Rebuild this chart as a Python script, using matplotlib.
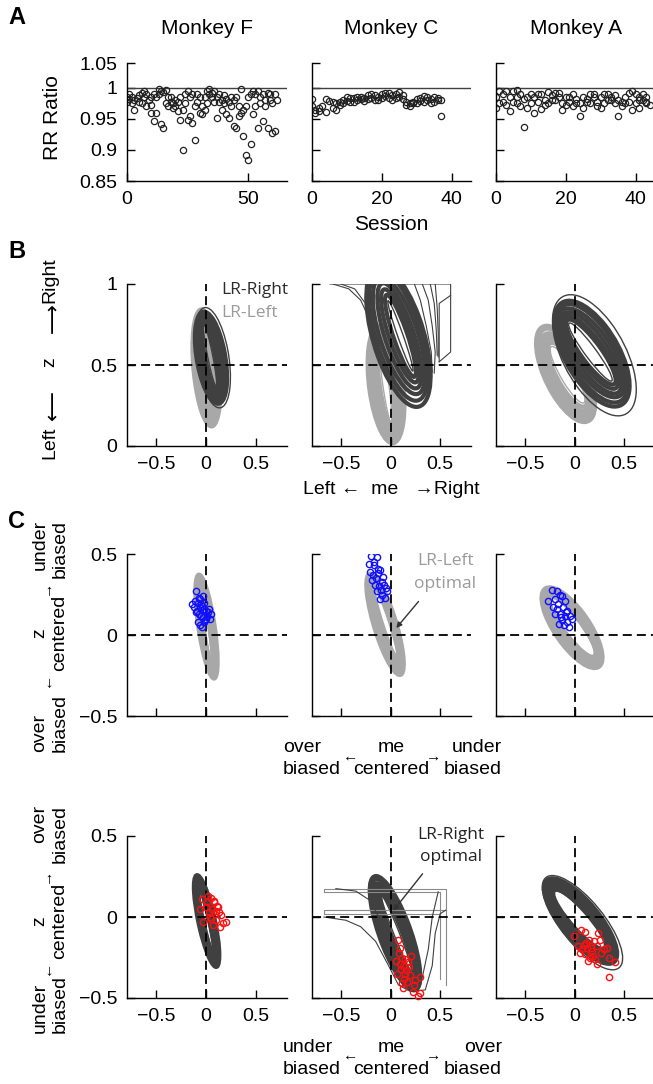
import matplotlib
matplotlib.use('Agg')
import matplotlib.pyplot as plt
from matplotlib.patches import Ellipse

plt.rcParams['font.family'] = ['Liberation Sans', 'DejaVu Sans']

W, H = 653, 1084
DARK = '#404040'
GRAY = '#a8a8a8'

# ---------------- panel A data (RR ratio per session) ----------------
F_sess = [0, 0, 1, 1, 2, 2, 3, 3, 4, 5, 5,
          6, 6, 7, 7, 8, 8, 9, 10, 10, 10, 11,
          11, 12, 12, 13, 13, 14, 14, 15, 15, 16, 16,
          17, 17, 18, 18, 19, 19, 20, 20, 21, 21, 22, 22,
          23, 23, 24, 24, 25, 25, 26, 26, 27, 27, 28, 28,
          29, 29, 30, 30, 31, 31, 32, 32, 33, 33, 34, 34,
          35, 35, 36, 36, 37, 37, 38, 38, 39, 39, 40, 40,
          41, 41, 42, 42, 43, 43, 44, 44, 45, 45, 46, 46,
          47, 47, 48, 48, 49, 49, 50, 50, 51, 51, 52, 52,
          53, 53, 54, 54, 55, 55, 56, 56, 57, 57, 58, 58, 59, 59, 60, 60, 61, 61, 62]
F_rr = [0.985, 0.978, 0.982, 0.990, 0.976, 0.986, 0.980, 0.965, 0.983, 0.978, 0.988,
        0.975, 0.992, 0.995, 0.985, 0.970, 0.990, 0.980, 0.985, 0.972, 0.960, 0.947,
        0.990, 0.960, 0.985, 0.998, 0.990, 0.995, 0.942, 0.994, 0.935, 0.996, 0.975,
        0.985, 0.970, 0.978, 0.985, 0.975, 0.968, 0.980, 0.970, 0.962, 0.978, 0.948, 0.985,
        0.900, 0.965, 0.990, 0.975, 0.948, 0.995, 0.955, 0.985, 0.944, 0.990, 0.916, 0.970,
        0.990, 0.978, 0.960, 0.985, 0.958, 0.970, 0.965, 0.985, 0.975, 0.995, 0.998, 0.990,
        0.985, 0.992, 0.978, 0.995, 0.951, 0.985, 0.978, 0.990, 0.965, 0.980, 0.975, 0.988,
        0.958, 0.982, 0.951, 0.978, 0.985, 0.970, 0.938, 0.980, 0.935, 0.985, 0.955, 0.970,
        0.998, 0.960, 0.923, 0.965, 0.892, 0.970, 0.884, 0.985, 0.909, 0.990, 0.958, 0.995,
        0.970, 0.990, 0.935, 0.995, 0.975, 0.985, 0.946, 0.990, 0.970, 0.980, 0.935, 0.992, 0.990, 0.980, 0.927, 0.975, 0.930, 0.990, 0.980]

C_sess = [0, 0, 1, 1, 2, 2, 3, 4, 4, 5, 6, 6, 7, 7, 8, 8, 9, 10, 10, 11, 11, 12, 13, 14, 15, 16,
          17, 18, 19, 20, 20, 21, 22, 22, 23, 24, 25, 25, 26, 27, 28, 28, 29, 30, 31, 32, 33, 34,
          35, 35, 36, 37, 37,
          9, 12, 13, 14, 15, 16, 17, 18, 19, 21, 23, 24, 26, 27, 29, 30, 31, 32, 33, 34, 36]
C_rr = [0.982, 0.970, 0.965, 0.959, 0.962, 0.968, 0.970, 0.982, 0.961, 0.979, 0.978, 0.968, 0.975,
        0.965, 0.973, 0.978, 0.980, 0.986, 0.979, 0.984, 0.978, 0.983, 0.985, 0.982, 0.984, 0.988,
        0.984, 0.989, 0.981, 0.990, 0.984, 0.987, 0.991, 0.984, 0.988, 0.984, 0.994, 0.986, 0.982,
        0.978, 0.970, 0.976, 0.978, 0.982, 0.979, 0.987, 0.980, 0.982, 0.985, 0.978, 0.981, 0.955, 0.980,
        0.976, 0.978, 0.980, 0.986, 0.979, 0.982, 0.990, 0.980, 0.986, 0.992, 0.981, 0.990, 0.988,
        0.972, 0.975, 0.976, 0.984, 0.978, 0.986, 0.976, 0.984]

A_sess = [0, 0, 1, 1, 2, 3, 3, 4, 5, 5, 6, 6, 7, 7, 8, 8, 9, 10, 10, 11, 11, 12, 13, 13, 14, 15, 15,
          16, 17, 17, 18, 19, 19, 20, 20, 21, 22, 22, 23, 24, 24, 25, 25, 26, 27, 27, 28, 29, 29, 30,
          31, 31, 32, 33, 34, 34, 35, 35, 36, 37, 37, 38, 39, 39, 40, 40, 41, 41, 42, 42, 43, 43, 44,
          2, 4, 6, 9, 12, 14, 16, 18, 21, 23, 26, 28, 30, 32, 33, 36, 38, 41, 43]
A_rr = [0.985, 0.968, 0.995, 0.975, 0.990, 0.972, 0.995, 0.962, 0.995, 0.978, 0.997, 0.985, 0.990,
        0.970, 0.937, 0.982, 0.968, 0.990, 0.975, 0.960, 0.985, 0.978, 0.966, 0.990, 0.980, 0.993,
        0.975, 0.988, 0.992, 0.980, 0.985, 0.975, 0.965, 0.985, 0.972, 0.978, 0.990, 0.970, 0.982,
        0.955, 0.975, 0.985, 0.968, 0.978, 0.990, 0.975, 0.985, 0.978, 0.970, 0.985, 0.975, 0.990,
        0.980, 0.985, 0.975, 0.988, 0.955, 0.980, 0.970, 0.985, 0.975, 0.978, 0.995, 0.965, 0.990,
        0.975, 0.985, 0.968, 0.990, 0.980, 0.975, 0.985, 0.972,
        0.978, 0.985, 0.975, 0.985, 0.990, 0.972, 0.980, 0.992, 0.986, 0.975, 0.982, 0.990, 0.968,
        0.990, 0.980, 0.978, 0.992, 0.980, 0.978]

monkeys = ['Monkey F', 'Monkey C', 'Monkey A']

# ---------------- iso-reward-rate contour bundles: (cx, cy, width, height, angle) ----------------
# first entry of each bundle is the innermost contour (drawn thin)
bF_left = [(0.000, 0.490, 0.50, 0.04, 98), (0.000, 0.490, 0.55, 0.08, 98), (-0.005, 0.488, 0.60, 0.12, 97),
           (0.000, 0.486, 0.64, 0.16, 98), (0.000, 0.488, 0.68, 0.20, 99), (0.002, 0.485, 0.71, 0.23, 98),
           (0.005, 0.482, 0.73, 0.26, 99)]
bF_right = [(0.040, 0.560, 0.40, 0.05, 108), (0.040, 0.555, 0.44, 0.10, 108), (0.042, 0.552, 0.47, 0.13, 107),
            (0.045, 0.550, 0.50, 0.17, 108), (0.046, 0.548, 0.53, 0.21, 109), (0.048, 0.546, 0.56, 0.25, 108),
            (0.050, 0.545, 0.59, 0.28, 108)]
bC_left = [(-0.050, 0.390, 0.50, 0.06, 103), (-0.050, 0.390, 0.55, 0.12, 103), (-0.050, 0.385, 0.60, 0.17, 102),
           (-0.050, 0.385, 0.64, 0.22, 103), (-0.050, 0.385, 0.68, 0.26, 104), (-0.048, 0.382, 0.71, 0.30, 103),
           (-0.045, 0.380, 0.74, 0.34, 103)]
bC_right = [(0.100, 0.680, 0.50, 0.05, 120), (0.100, 0.680, 0.58, 0.13, 120), (0.095, 0.680, 0.66, 0.20, 121),
            (0.090, 0.680, 0.74, 0.27, 121), (0.085, 0.680, 0.82, 0.35, 122), (0.080, 0.680, 0.90, 0.42, 121),
            (0.080, 0.675, 0.97, 0.48, 121)]
bA_left = [(-0.070, 0.440, 0.48, 0.12, 135), (-0.070, 0.440, 0.53, 0.18, 135), (-0.075, 0.440, 0.58, 0.22, 134),
           (-0.080, 0.440, 0.63, 0.26, 135), (-0.080, 0.440, 0.67, 0.30, 136), (-0.085, 0.445, 0.72, 0.33, 135),
           (-0.090, 0.445, 0.76, 0.36, 135)]
bA_right = [(0.160, 0.580, 0.56, 0.09, 141), (0.165, 0.580, 0.62, 0.16, 142), (0.165, 0.578, 0.68, 0.21, 142),
            (0.170, 0.575, 0.74, 0.27, 142), (0.170, 0.575, 0.80, 0.33, 143), (0.175, 0.572, 0.85, 0.39, 142),
            (0.175, 0.570, 0.90, 0.44, 142)]

cF_left = [(0.000, 0.060, 0.45, 0.03, 104), (0.000, 0.060, 0.49, 0.065, 104), (0.000, 0.058, 0.53, 0.08, 103),
           (0.000, 0.056, 0.57, 0.10, 104), (0.002, 0.055, 0.60, 0.12, 105), (0.004, 0.054, 0.63, 0.14, 104),
           (0.005, 0.052, 0.66, 0.16, 104)]
cC_left = [(-0.045, 0.075, 0.45, 0.05, 118), (-0.045, 0.075, 0.50, 0.095, 118), (-0.048, 0.072, 0.55, 0.12, 117),
           (-0.050, 0.070, 0.59, 0.14, 118), (-0.050, 0.070, 0.63, 0.17, 119), (-0.052, 0.068, 0.67, 0.19, 118),
           (-0.055, 0.066, 0.70, 0.21, 118)]
cA_left = [(-0.020, 0.050, 0.55, 0.12, 142), (-0.020, 0.050, 0.58, 0.15, 142), (-0.020, 0.048, 0.61, 0.18, 143),
           (-0.020, 0.047, 0.64, 0.20, 143), (-0.020, 0.047, 0.67, 0.23, 142), (-0.022, 0.046, 0.70, 0.255, 143),
           (-0.025, 0.045, 0.74, 0.28, 143)]
cF_right = [(0.000, -0.020, 0.40, 0.03, 110), (0.000, -0.020, 0.44, 0.065, 110), (0.000, -0.020, 0.48, 0.08, 109),
            (0.002, -0.022, 0.51, 0.10, 110), (0.004, -0.022, 0.54, 0.12, 111), (0.005, -0.024, 0.57, 0.14, 110),
            (0.006, -0.025, 0.60, 0.16, 110)]
cC_right = [(0.060, -0.100, 0.55, 0.05, 123), (0.060, -0.100, 0.60, 0.10, 123), (0.055, -0.100, 0.65, 0.13, 122),
            (0.050, -0.100, 0.69, 0.17, 123), (0.050, -0.100, 0.73, 0.21, 124), (0.048, -0.100, 0.78, 0.25, 123),
            (0.045, -0.100, 0.82, 0.29, 123)]
cA_right = [(0.050, -0.015, 0.60, 0.12, 146), (0.050, -0.015, 0.64, 0.15, 147), (0.052, -0.018, 0.68, 0.18, 147),
            (0.055, -0.020, 0.72, 0.21, 147), (0.055, -0.020, 0.76, 0.235, 148), (0.058, -0.022, 0.81, 0.26, 147),
            (0.060, -0.025, 0.86, 0.29, 147)]

# single thin outer loops
thin_B = [[(0.065, 0.545, 0.64, 0.32, 107)], [], [(0.200, 0.560, 1.00, 0.52, 141)]]
thin_C2 = [[], [], [(0.080, -0.035, 0.94, 0.33, 147)]]

# clipped contours (Monkey C), vertices
edge_B_C = [
    [(-0.61, 1.0), (0.605, 1.0), (0.605, 0.58), (0.49, 0.52)],
    [(0.605, 0.93), (0.49, 0.88), (0.49, 0.52)],
    [(-0.58, 1.0), (-0.42, 0.97), (-0.30, 0.90), (-0.18, 0.74), (-0.05, 0.54), (0.06, 0.39), (0.16, 0.31)],
    [(-0.50, 1.0), (-0.36, 0.97), (-0.24, 0.87), (-0.12, 0.70), (0.0, 0.50)],
    [(0.24, 1.0), (0.30, 0.90), (0.36, 0.74), (0.41, 0.58), (0.42, 0.46), (0.36, 0.36)],
    [(0.32, 1.0), (0.38, 0.90), (0.42, 0.74), (0.45, 0.58), (0.44, 0.45)],
    [(0.40, 1.0), (0.44, 0.88), (0.46, 0.72), (0.47, 0.56)],
    [(0.45, 1.0), (0.47, 0.85), (0.48, 0.70), (0.48, 0.55)],
]
box_C2_C = [
    [(-0.67, 0.155), (-0.67, 0.175), (0.555, 0.175), (0.555, -0.42)],
    [(-0.67, 0.155), (0.50, 0.155), (0.50, -0.38)],
    [(-0.67, 0.021), (-0.67, 0.042), (0.555, 0.042)],
    [(-0.67, 0.021), (0.50, 0.021)],
]
curve_C2_C = [
    [(-0.67, 0.0), (-0.45, -0.02), (-0.30, -0.06), (-0.15, -0.15), (-0.02, -0.30), (0.08, -0.42),
     (0.20, -0.46), (0.35, -0.45), (0.42, -0.30), (0.45, -0.10), (0.50, 0.02), (0.555, 0.042)],
    [(-0.55, 0.175), (-0.35, 0.16), (-0.20, 0.10), (-0.08, -0.05), (0.05, -0.30), (0.15, -0.44),
     (0.30, -0.43), (0.38, -0.20), (0.42, 0.0), (0.48, 0.155)],
]

# ---------------- behavioural points ----------------
blue_x = [[-0.10, -0.14, -0.12, -0.08, -0.06, -0.04, -0.02, 0.00, 0.02, 0.04, -0.11, -0.09, -0.07, -0.05, -0.03,
           -0.01, 0.01, 0.03, -0.08, -0.06, -0.04, -0.02, 0.00, -0.05, -0.03, -0.07, 0.05, -0.10, -0.06, -0.02],
          [-0.20, -0.14, -0.22, -0.17, -0.13, -0.21, -0.18, -0.11, -0.19, -0.15, -0.09, -0.16, -0.12, -0.07, -0.14,
           -0.04, -0.09, -0.06, -0.11, -0.05, -0.08, -0.17, -0.13, -0.10],
          [-0.23, -0.18, -0.15, -0.27, -0.20, -0.13, -0.22, -0.10, -0.17, -0.12, -0.08, -0.20, -0.15, -0.10, -0.05,
           -0.13, -0.08, -0.03, -0.16, -0.11, -0.06, -0.14, -0.18, -0.09]]
blue_y = [[0.27, 0.19, 0.17, 0.20, 0.22, 0.18, 0.16, 0.15, 0.14, 0.10, 0.21, 0.15, 0.13, 0.12, 0.11,
           0.09, 0.12, 0.16, 0.08, 0.06, 0.05, 0.08, 0.10, 0.19, 0.24, 0.23, 0.13, 0.14, 0.17, 0.20],
          [0.49, 0.48, 0.44, 0.43, 0.41, 0.39, 0.37, 0.40, 0.34, 0.35, 0.33, 0.31, 0.30, 0.31, 0.27,
           0.27, 0.25, 0.23, 0.22, 0.29, 0.36, 0.45, 0.38, 0.28],
          [0.28, 0.27, 0.25, 0.21, 0.22, 0.24, 0.17, 0.21, 0.19, 0.17, 0.15, 0.13, 0.13, 0.12, 0.12,
           0.09, 0.08, 0.10, 0.07, 0.06, 0.05, 0.11, 0.16, 0.14]]
red_x = [[-0.04, 0.02, 0.05, 0.08, 0.11, -0.06, -0.03, 0.00, 0.03, 0.06, 0.09, 0.12, 0.15, 0.20, 0.14, 0.10,
          0.07, 0.04, 0.01, 0.08, 0.13, 0.05, 0.10, 0.17],
         [0.08, 0.10, 0.06, 0.12, 0.15, 0.13, 0.18, 0.07, 0.11, 0.16, 0.20, 0.09, 0.14, 0.17, 0.30, 0.24, 0.13,
          0.23, 0.28, 0.30, 0.10, 0.19, 0.15, 0.21, 0.25, 0.12],
         [-0.01, 0.07, 0.11, 0.24, 0.15, 0.20, 0.26, 0.04, 0.08, 0.13, 0.18, 0.23, 0.33, 0.11, 0.16, 0.23, 0.35,
          0.41, 0.35, 0.06, 0.10, 0.14, 0.19, 0.27, 0.30, 0.17, 0.21, 0.12]]
red_y = [[0.11, 0.13, 0.12, 0.09, 0.07, 0.05, -0.03, 0.06, 0.03, 0.05, 0.02, 0.06, 0.01, -0.03, -0.06, -0.02,
          -0.05, 0.00, 0.09, 0.10, 0.03, -0.01, 0.04, -0.04],
         [-0.14, -0.19, -0.27, -0.25, -0.26, -0.30, -0.28, -0.35, -0.32, -0.33, -0.36, -0.22, -0.38, -0.40, -0.37,
          -0.42, -0.44, -0.46, -0.49, -0.47, -0.29, -0.31, -0.35, -0.24, -0.39, -0.41],
         [-0.12, -0.08, -0.09, -0.10, -0.14, -0.15, -0.14, -0.18, -0.20, -0.19, -0.21, -0.18, -0.19, -0.23, -0.25,
          -0.29, -0.25, -0.28, -0.37, -0.22, -0.17, -0.27, -0.24, -0.22, -0.20, -0.19, -0.26, -0.16]]

# ---------------- layout (pixel boxes) ----------------
cols = [(127, 287), (312, 471), (496, 655)]
rows = {'A': (63, 181), 'B': (284, 446), 'C1': (554, 716), 'C2': (836, 998)}

fig = plt.figure(figsize=(W / 100, H / 100), dpi=100)


def add_ax(col, row):
    l, r = cols[col]
    t, b = rows[row]
    ax = fig.add_axes([l / W, 1 - b / H, (r - l) / W, (b - t) / H])
    ax.spines['top'].set_visible(False)
    ax.spines['right'].set_visible(False)
    ax.spines['left'].set_linewidth(1.0)
    ax.spines['bottom'].set_linewidth(1.0)
    ax.tick_params(direction='in', length=6, width=1, labelsize=14, pad=7)
    return ax


def ftext(x, y, s, **kw):
    kw.setdefault('ha', 'center')
    kw.setdefault('va', 'center')
    fig.text(x / W, 1 - y / H, s, **kw)


def draw_bundle(ax, bundle, color, lw=3.0):
    for k, (cx, cy, w, h, a) in enumerate(bundle):
        ax.add_patch(Ellipse((cx, cy), w, h, angle=a, fill=False, ec=color,
                             lw=1.0 if k == 0 else lw))


def draw_lines(ax, lines, color, lw=0.8):
    for pts in lines:
        ax.plot([p[0] for p in pts], [p[1] for p in pts], color=color, lw=lw)


def dashed(ax, y0):
    ax.axhline(y0, color='k', lw=1.3, ls=(0, (5, 2.8)), zorder=5)
    ax.axvline(0, color='k', lw=1.3, ls=(0, (5, 2.8)), zorder=5)


# ---------------- panel A ----------------
sess_data = [(F_sess, F_rr), (C_sess, C_rr), (A_sess, A_rr)]
xmax_A = [66, 45.5, 45.5]
xt_A = [[0, 50], [0, 20, 40], [0, 20, 40]]
for i in range(3):
    ax = add_ax(i, 'A')
    ax.axhline(1.0, color=DARK, lw=1.0)
    s, r = sess_data[i]
    ax.plot(s, r, 'o', mfc='none', mec='#222222', ms=4.5, mew=0.9)
    ax.set_xlim(0, xmax_A[i])
    ax.set_ylim(0.85, 1.04)
    ax.set_xticks(xt_A[i])
    ax.set_xticklabels([str(v) for v in xt_A[i]])
    ax.set_yticks([0.85, 0.9, 0.95, 1.0, 1.04])
    if i == 0:
        ax.set_yticklabels(['0.85', '0.9', '0.95', '1', '1.05'])
    else:
        ax.set_yticklabels([])
    ftext((cols[i][0] + cols[i][1]) / 2, 28, monkeys[i], fontsize=15)

# ---------------- panel B ----------------
xt = [-0.5, 0, 0.5]
xtl = ['\u22120.5', '0', '0.5']
B_left = [bF_left, bC_left, bA_left]
B_right = [bF_right, bC_right, bA_right]
for i in range(3):
    ax = add_ax(i, 'B')
    draw_bundle(ax, B_left[i], GRAY)
    draw_bundle(ax, B_right[i], DARK)
    draw_bundle(ax, thin_B[i], DARK, lw=0.8)
    if i == 1:
        draw_lines(ax, edge_B_C, DARK)
    dashed(ax, 0.5)
    ax.set_xlim(-0.79, 0.81)
    ax.set_ylim(0, 1)
    ax.set_xticks(xt)
    ax.set_xticklabels(xtl)
    ax.set_yticks([0, 0.5, 1])
    if i == 0:
        ax.set_yticklabels(['0', '0.5', '1'])
        ax.text(0.15, 0.96, 'LR-Right', color='#2a2a2a', fontsize=12.5, family='Open Sans', va='center')
        ax.text(0.15, 0.82, 'LR-Left', color='#9a9a9a', fontsize=12.5, family='Open Sans', va='center')
    else:
        ax.set_yticklabels([])

# ---------------- panel C ----------------
C1_loops = [cF_left, cC_left, cA_left]
C2_loops = [cF_right, cC_right, cA_right]
for i in range(3):
    ax = add_ax(i, 'C1')
    draw_bundle(ax, C1_loops[i], GRAY)
    dashed(ax, 0)
    ax.plot(blue_x[i], blue_y[i], 'o', mfc='none', mec='#1010ff', ms=4.5, mew=1.0, zorder=6)
    ax.set_xlim(-0.79, 0.81)
    ax.set_ylim(-0.5, 0.5)
    ax.set_xticks(xt)
    ax.set_xticklabels([])
    ax.set_yticks([-0.5, 0, 0.5])
    ax.set_yticklabels(['\u22120.5', '0', '0.5'] if i == 0 else [])
    if i == 1:
        ax.annotate('', xy=(0.04, 0.03), xytext=(0.30, 0.22),
                    arrowprops=dict(arrowstyle='-|>', color='#333333', lw=1.0, mutation_scale=8))
        ax.text(0.55, 0.455, 'LR-Left', color='#9a9a9a', fontsize=12.5, family='Open Sans', ha='center', va='center')
        ax.text(0.55, 0.315, 'optimal', color='#9a9a9a', fontsize=12.5, family='Open Sans', ha='center', va='center')

for i in range(3):
    ax = add_ax(i, 'C2')
    draw_bundle(ax, C2_loops[i], DARK)
    draw_bundle(ax, thin_C2[i], DARK, lw=0.8)
    if i == 1:
        draw_lines(ax, box_C2_C, '#8a8a8a')
        draw_lines(ax, curve_C2_C, DARK)
    dashed(ax, 0)
    ax.plot(red_x[i], red_y[i], 'o', mfc='none', mec='#ff1010', ms=4.5, mew=1.0, zorder=6, clip_on=False)
    ax.set_xlim(-0.79, 0.81)
    ax.set_ylim(-0.5, 0.5)
    ax.set_xticks(xt)
    ax.set_xticklabels(xtl)
    ax.set_yticks([-0.5, 0, 0.5])
    ax.set_yticklabels(['\u22120.5', '0', '0.5'] if i == 0 else [])
    if i == 1:
        ax.annotate('', xy=(0.01, 0.025), xytext=(0.34, 0.28),
                    arrowprops=dict(arrowstyle='-|>', color='#333333', lw=1.0, mutation_scale=8))
        ax.text(0.61, 0.505, 'LR-Right', color='#222222', fontsize=12.5, family='Open Sans', ha='center', va='center')
        ax.text(0.61, 0.37, 'optimal', color='#222222', fontsize=12.5, family='Open Sans', ha='center', va='center')

# ---------------- labels ----------------
for letter, y in [('A', 18), ('B', 252), ('C', 522)]:
    ftext(8, y, letter, fontsize=17, fontweight='bold', ha='left')

ftext(52, 118, 'RR Ratio', fontsize=15, rotation=90)
ftext(391, 224, 'Session', fontsize=15)

# B axis labels
ftext(50, 280, 'Right', fontsize=14, rotation=90)
ftext(53, 318, '\u27f6', fontsize=15, rotation=90, family='DejaVu Sans')
ftext(50, 362, 'z', fontsize=14, rotation=90)
ftext(53, 405, '\u27f5', fontsize=15, rotation=90, family='DejaVu Sans')
ftext(50, 443, 'Left', fontsize=14, rotation=90)
ftext(391, 490, 'Left \u2190  me   \u2192Right', fontsize=14)


def bias_ylabel(top, mid, bottom, up_word, down_word):
    ftext(40, top, up_word, fontsize=14, rotation=90, va='top')
    ftext(60, top, 'biased', fontsize=14, rotation=90, va='top')
    ftext(40, mid, 'z', fontsize=14, rotation=90)
    ftext(60, mid, 'centered', fontsize=14, rotation=90)
    ftext(40, bottom, down_word, fontsize=14, rotation=90, va='bottom')
    ftext(60, bottom, 'biased', fontsize=14, rotation=90, va='bottom')
    ftext(46, mid - 46, '\u2192', fontsize=11, rotation=90)
    ftext(46, mid + 46, '\u2190', fontsize=11, rotation=90)


def bias_xlabel(y, left_word, right_word):
    ftext(283, y, left_word, fontsize=14, ha='left')
    ftext(391, y, 'me', fontsize=14)
    ftext(502, y, right_word, fontsize=14, ha='right')
    ftext(351, y + 9, '\u2190', fontsize=11)
    ftext(434, y + 9, '\u2192', fontsize=11)
    ftext(283, y + 22, 'biased', fontsize=14, ha='left')
    ftext(391, y + 22, 'centered', fontsize=14)
    ftext(502, y + 22, 'biased', fontsize=14, ha='right')


bias_ylabel(520, 633, 752, 'under', 'over')
bias_xlabel(748, 'over', 'under')
bias_ylabel(805, 921, 1033, 'over', 'under')
bias_xlabel(1047, 'under', 'over')

fig.savefig('out.png', dpi=100)
